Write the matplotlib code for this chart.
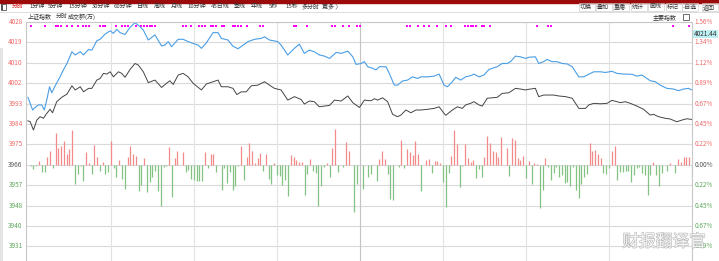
import matplotlib
matplotlib.use("Agg")
import matplotlib.pyplot as plt
import matplotlib.patheffects as pe
from matplotlib.patches import Rectangle

plt.rcParams['font.family'] = ['Noto Sans CJK SC', 'DejaVu Sans']

W, H = 719, 261

# intraday index line (minute, price)
blue_min = [0, 1.7, 2.6, 3.8, 5.0, 5.9, 6.8, 7.8, 8.6, 9.8, 11.6, 12.8, 14.1, 15.9, 17.1, 18.9, 20.1,
            21.9, 23.1, 24.9, 26.1, 27.9, 29.7, 30.9, 32.1, 33.3, 35.1, 36.9, 38.7, 40.5, 41.7, 43.5,
            45.9, 48.3, 49.5, 50.7, 51.9, 54.3, 56.1, 57.9, 59.7, 61.5, 62.7, 64.5, 66.9, 68.7, 69.9,
            72.3, 74.1, 75.9, 77.1, 79.5, 81.9, 84.3, 85.5, 87.3, 90.3, 91.5, 93.9, 96.3, 98.1, 99.9,
            101.7, 103.5, 105.3, 107.2, 109.0, 111.4, 113.2, 115.6, 117.4, 118.6, 120.4, 121.6, 122.8,
            124.6, 125.8, 127.0, 129.4, 130.6, 132.4, 133.6, 135.4, 137.2, 139.0, 140.8, 142.0, 144.4,
            146.8, 148.6, 150.4, 151.6, 153.4, 154.6, 156.4, 158.2, 160.0, 161.2, 163.0, 164.8, 166.6,
            169.6, 171.4, 173.2, 174.4, 176.2, 178.0, 179.8, 181.0, 183.4, 184.6, 186.4, 187.6, 189.4,
            191.2, 193.1, 194.9, 196.7, 199.1, 200.9, 202.1, 204.5, 206.9, 208.7, 211.1, 212.9, 215.3,
            218.3, 220.1, 221.9, 223.7, 224.9, 226.7, 228.5, 230.9, 233.3, 235.1, 236.9, 238.7, 240]
blue_val = [3995.3, 3989.8, 3990.9, 3992.0, 3992.0, 3989.8, 3994.1, 3999.9, 3997.3, 4000.2, 4004.2,
            4007.2, 4010.0, 4015.1, 4013.7, 4015.1, 4013.7, 4016.1, 4015.8, 4019.9, 4020.5, 4022.8,
            4024.2, 4023.1, 4024.8, 4023.4, 4022.6, 4025.7, 4027.7, 4026.0, 4024.5, 4020.2, 4022.4,
            4017.6, 4018.0, 4019.5, 4017.3, 4020.5, 4020.5, 4019.5, 4018.7, 4018.0, 4016.6, 4019.0,
            4023.4, 4023.4, 4020.9, 4020.2, 4017.5, 4016.4, 4017.4, 4019.5, 4020.5, 4020.9, 4021.6,
            4020.2, 4019.5, 4018.0, 4013.7, 4016.6, 4018.4, 4014.4, 4015.8, 4015.1, 4013.7, 4013.2,
            4012.2, 4014.8, 4014.4, 4015.4, 4012.9, 4009.6, 4010.0, 4010.8, 4008.6, 4007.9, 4007.2,
            4008.6, 4008.6, 4005.7, 4000.6, 4000.6, 4002.4, 4002.8, 4004.2, 4003.5, 4004.2, 4004.2,
            4004.5, 4005.4, 4000.6, 3999.9, 4002.1, 4004.0, 4002.8, 4004.2, 4004.7, 4005.4, 4004.2,
            4005.0, 4007.4, 4008.6, 4010.0, 4010.0, 4010.8, 4013.2, 4012.9, 4012.2, 4012.7, 4012.9,
            4010.0, 4010.8, 4011.8, 4010.8, 4010.8, 4010.0, 4009.8, 4008.6, 4004.2, 4004.2, 4005.0,
            4006.4, 4006.4, 4006.1, 4006.6, 4005.7, 4005.4, 4005.3, 4004.5, 4005.0, 4003.5, 4002.5,
            4002.1, 4000.6, 3999.2, 3998.9, 3998.2, 3998.9, 3999.2, 3998.5]

# average / reference line (minute, price)
gray_min = [0, 0.8, 2.0, 3.2, 4.4, 5.6, 6.8, 8.0, 8.9, 10.4, 12.2, 14.1, 15.9, 17.1, 18.9, 20.1, 21.9,
            23.1, 24.9, 26.1, 27.3, 28.5, 29.7, 30.9, 32.7, 33.9, 35.1, 36.9, 38.7, 39.9, 41.7, 43.5,
            45.9, 48.3, 50.1, 51.3, 52.5, 54.3, 56.1, 57.9, 59.7, 62.7, 64.5, 66.9, 68.7, 69.9, 72.3,
            74.1, 75.5, 77.1, 78.9, 80.7, 83.1, 85.5, 87.3, 89.1, 91.5, 93.9, 96.3, 98.7, 99.9, 101.7,
            103.5, 105.3, 107.2, 109.0, 110.8, 113.2, 115.6, 117.4, 119.8, 121.6, 124.0, 125.2, 126.4,
            128.2, 130.0, 131.8, 133.6, 134.8, 136.6, 138.4, 140.2, 142.0, 144.4, 146.8, 148.6, 150.4,
            151.0, 153.4, 155.2, 157.0, 158.2, 160.0, 161.2, 163.0, 164.2, 166.0, 167.8, 169.6, 171.4,
            173.8, 176.2, 178.0, 179.8, 181.0, 183.4, 184.6, 186.4, 188.2, 190.0, 191.8, 194.3, 196.7,
            199.1, 201.5, 202.7, 204.5, 206.9, 209.3, 211.1, 212.3, 214.1, 215.9, 217.7, 220.1, 222.5,
            224.9, 226.1, 227.9, 230.3, 232.1, 234.5, 236.3, 238.1, 240]
gray_val = [3985.1, 3984.7, 3981.1, 3985.4, 3986.9, 3986.2, 3988.3, 3990.1, 3988.6, 3993.4, 3995.3,
            3996.7, 4000.3, 3998.5, 3999.9, 3997.7, 3999.2, 3999.2, 4002.8, 4003.5, 4005.7, 4005.4,
            4006.4, 4004.2, 4006.4, 4005.7, 4004.0, 4007.4, 4010.0, 4009.3, 4006.4, 4001.7, 4002.8,
            3999.6, 4001.4, 4002.5, 4000.9, 4005.0, 4005.7, 4004.2, 4001.4, 3998.5, 4001.1, 4002.1,
            4002.8, 3999.9, 3999.9, 3999.2, 3996.5, 3997.7, 3997.7, 4000.3, 4000.6, 4002.1, 4000.6,
            3999.2, 3998.5, 3994.1, 3995.6, 3994.4, 3992.4, 3993.7, 3993.4, 3991.2, 3991.5, 3991.8,
            3994.1, 3993.7, 3995.9, 3993.0, 3990.9, 3994.1, 3993.8, 3994.7, 3994.1, 3995.1, 3993.4,
            3987.9, 3986.9, 3987.6, 3989.8, 3988.6, 3989.8, 3989.8, 3990.1, 3990.5, 3991.2, 3988.3,
            3987.5, 3989.8, 3991.2, 3990.5, 3992.0, 3992.7, 3993.4, 3992.0, 3991.5, 3994.9, 3995.1,
            3995.3, 3997.0, 3997.3, 3999.2, 3998.9, 3998.5, 3998.8, 3999.2, 3995.6, 3996.3, 3996.3,
            3996.3, 3995.9, 3995.6, 3994.9, 3990.5, 3990.5, 3992.0, 3992.7, 3992.5, 3992.7, 3994.0,
            3993.6, 3993.0, 3993.4, 3992.7, 3991.5, 3990.1, 3987.6, 3987.9, 3986.9, 3986.2, 3985.9,
            3984.7, 3985.4, 3986.0, 3985.7]

# bars drawn from the 3966 base line (minute, height in price units)
bar_min = [1, 2, 3, 4, 5, 6, 7, 8, 9, 10, 11, 12, 13, 14, 15, 16, 17, 18, 19, 20, 21, 22, 23, 24, 25,
           26, 27, 28, 29, 30, 31, 32, 33, 34, 35, 36, 37, 38, 39, 40, 41, 42, 43, 44, 45, 46, 47, 48,
           49, 50, 51, 52, 53, 54, 56, 57, 58, 59, 60, 61, 62, 63, 64, 65, 66, 67, 68, 70, 71, 72, 73,
           74, 75, 76, 77, 78, 79, 80, 81, 82, 83, 84, 85, 86, 87, 88, 89, 90, 91, 92, 93, 94, 95, 96,
           97, 98, 99, 100, 101, 102, 103, 104, 105, 106, 107, 108, 109, 110, 111, 112, 114, 115, 116,
           118, 119, 121, 122, 123, 124, 126, 127, 128, 129, 130, 131, 132, 133, 134, 135, 136, 137,
           138, 139, 140, 141, 142, 143, 144, 145, 146, 147, 148, 149, 150, 151, 152, 153, 154, 155,
           156, 157, 158, 159, 160, 161, 162, 163, 164, 165, 166, 167, 168, 169, 170, 171, 173, 174,
           175, 176, 177, 178, 179, 180, 181, 182, 183, 184, 185, 186, 187, 188, 189, 190, 191, 192,
           193, 194, 195, 196, 197, 198, 199, 200, 201, 202, 203, 204, 205, 206, 207, 208, 209, 210,
           211, 212, 213, 214, 215, 216, 217, 218, 219, 220, 221, 222, 223, 224, 225, 226, 227, 228,
           229, 231, 232, 234, 235, 236, 237, 238, 239, 240]
bar_val = [-0.4, -1.9, -0.7, 1.6, -3.0, -3.0, 3.6, 5.9, -1.6, 14.0, 7.1, 8.3, 10.4, 4.5, 6.8, 15.2,
           -8.4, -3.8, -0.4, -7.2, 5.4, 0.7, -4.1, 8.7, 3.6, -2.6, 1.0, -3.8, -3.0, 10.3, -1.2, -5.1,
           2.2, -6.2, -10.6, 3.2, 8.0, 4.5, 3.9, -11.3, -8.8, 2.9, -12.0, -7.4, -5.5, -2.6, -11.3,
           -18.1, -0.9, -0.7, 7.7, -13.8, 3.0, 5.9, 5.4, -3.0, -2.3, -6.2, -6.5, -7.2, -7.2, -7.2,
           5.4, -1.6, 4.9, 4.9, -3.0, -11.0, -1.6, -8.1, -3.3, -11.0, -9.2, -0.7, 8.2, -6.8, 3.3,
           9.6, 6.2, 0.7, 2.9, 5.1, -2.9, 4.5, -6.1, -8.5, 0.9, -4.6, -4.9, -8.7, -6.8, -13.6, 4.1,
           3.3, 1.9, 1.2, 1.2, -13.3, -4.2, 2.6, -2.5, -3.6, -17.7, -9.0, -1.0, 0.7, -5.1, 7.4, 15.5,
           -3.2, -1.0, 9.8, 6.2, -20.6, -8.3, -10.7, -0.3, -5.1, -3.9, -7.1, 2.6, 6.2, 2.6, -3.9,
           -14.8, -15.5, -0.3, -1.0, 10.9, -1.3, 6.9, 5.5, 4.1, 10.3, 4.8, -11.4, -0.3, 2.2, 2.6,
           -3.6, 1.6, 1.6, 0.7, -7.5, -18.4, -3.6, 3.8, 15.2, 9.1, -9.7, -0.7, 9.1, 2.9, 1.2, 2.2,
           -5.6, -2.0, -5.4, 3.3, 12.7, 9.4, 5.9, 5.5, 3.3, 12.0, 7.4, -4.9, 11.6, 10.6, 2.9, 2.3,
           3.8, -5.8, 1.6, -8.5, 0.7, 0.4, -18.8, -11.1, 2.9, -1.0, -6.4, -3.6, -1.0, -5.4, -4.6,
           -8.0, -7.5, -9.0, -1.0, -10.9, -14.3, -8.3, -5.4, -3.9, 9.4, 5.9, 6.5, 4.5, 3.0, -3.6,
           -3.9, -1.6, 5.8, 8.2, -6.4, -3.0, -3.2, -2.5, -2.9, -7.5, -4.6, -1.4, -1.0, -3.5, -4.3,
           -13.3, -4.6, 1.2, -4.6, -9.0, -3.5, -2.5, 0.9, -3.5, 2.6, 1.2, 3.6, 3.6, 3.6, -5.8]

# magenta signal marks along the top
dot_min = [1, 6, 10, 11, 12, 14, 16, 18, 20, 21, 22, 26, 27, 28, 32, 34, 35, 36, 39, 41, 42, 43, 44,
           45, 46, 56, 57, 59, 62, 63, 64, 66, 67, 68, 70, 71, 74, 75, 76, 77, 79, 84, 85, 96, 97,
           101, 110, 111, 114, 116, 119, 120, 137, 138, 141, 143, 145, 148, 151, 153, 158, 159, 160,
           161, 162, 164, 165, 167, 184, 188, 189, 233, 239]
dot_level = 4026.3

base = 3966.0
step = 8.86
left_labels = ['4028', '4019', '4010', '4002', '3993', '3984', '3975', '3966',
               '3957', '3948', '3940', '3931']
right_labels = ['1.56%', '1.34%', '1.12%', '0.89%', '0.67%', '0.45%', '0.22%', '0.00%',
                '0.22%', '0.45%', '0.67%', '0.89%']
toolbar = [('分时', 12), ('1分钟', 29), ('5分钟', 48), ('15分钟', 68), ('30分钟', 92), ('60分钟', 114),
           ('日线', 137), ('周线', 154), ('月线', 171), ('10分钟', 187), ('45日线', 211), ('季线', 234),
           ('年线', 251), ('5秒', 269), ('15秒', 285), ('多分时', 302), ('更多 〉', 322)]
buttons = [('切换', 580), ('叠加', 597), ('重播', 614), ('统计', 632), ('画线', 649), ('标记', 667),
           ('-自选', 683), ('返回', 703)]

RED = '#f06a6a'
GREEN = '#5ea85e'


def fx(x):
    return x / W


def fy(y):
    return 1 - y / H


fig = plt.figure(figsize=(W / 100, H / 100), dpi=100)
fig.patch.set_facecolor('white')

# header strips
fig.patches.append(Rectangle((0, fy(2.5)), 1, 2.5 / H, transform=fig.transFigure,
                             color='#9b0b0b', zorder=0))
fig.add_artist(plt.Line2D([0, 1], [fy(12), fy(12)], transform=fig.transFigure,
                          color='#d8d8d8', lw=0.6))
fig.patches.append(Rectangle((fx(1), fy(10)), 5 / W, 6 / H, transform=fig.transFigure,
                             fill=False, ec='#555555', lw=0.6))
fig.patches.append(Rectangle((fx(1), fy(10)), 2 / W, 6 / H, transform=fig.transFigure,
                             color='#555555', lw=0))
for name, x in toolbar:
    fig.text(fx(x), fy(6.5), name, fontsize=4.3, va='center', ha='left',
             color='#e02020' if name == '分时' else '#333333')
for name, x in buttons:
    fig.patches.append(Rectangle((fx(x - 1.5), fy(11)), 16 / W, 8 / H, transform=fig.transFigure,
                                 fill=False, ec='#d0d0d0', lw=0.5))
    fig.text(fx(x), fy(7), name, fontsize=4.3, va='center', ha='left', color='#333333')
fig.text(fx(28), fy(16.5), '上证指数', fontsize=4.3, va='center', color='#333333')
fig.text(fx(56), fy(16.5), '分时', fontsize=4.3, va='center', color='#333333')
fig.text(fx(68), fy(16.5), '成交额(万)', fontsize=4.3, va='center', color='#333333')
fig.text(fx(653), fy(17), '主要指数', fontsize=4.3, va='center', color='#333333')
fig.patches.append(Rectangle((fx(683), fy(20)), 6 / W, 6 / H, transform=fig.transFigure,
                             fill=False, ec='#555555', lw=0.6))

ax = fig.add_axes([fx(26), 0, (692 - 26) / W, 1 - 22 / H])
top = base + 7 * step
ax.set_xlim(-0.7, 240)
ax.set_ylim(top - (H - 22) * step / 20.4, top)

tick_vals = [base + (7 - i) * step for i in range(len(left_labels))]
for i, v in enumerate(tick_vals):
    ax.axhline(v, color='#dadada', lw=0.8, zorder=0)
    c = RED if i < 7 else ('#555555' if i == 7 else GREEN)
    ax.text(-0.005, v, left_labels[i], transform=ax.get_yaxis_transform(), ha='right',
            va='center', fontsize=4.6, color=c)
    ax.text(1.004, v, right_labels[i], transform=ax.get_yaxis_transform(), ha='left',
            va='center', fontsize=4.6, color=c)
for m in range(30, 240, 30):
    ax.axvline(m, color='#c4c4c4' if m == 120 else '#e2e2e2', lw=0.8, zorder=0)

up_min = [m for m, v in zip(bar_min, bar_val) if v > 0]
up_val = [v for v in bar_val if v > 0]
dn_min = [m for m, v in zip(bar_min, bar_val) if v < 0]
dn_val = [v for v in bar_val if v < 0]
ax.vlines(up_min, base, [base + v for v in up_val], color='#f28a8a', lw=0.9)
ax.vlines(dn_min, base, [base + v for v in dn_val], color='#82c282', lw=0.9)

ax.plot(gray_min, gray_val, color='#444444', lw=0.7)
ax.plot(blue_min, blue_val, color='#4a9ee6', lw=0.8)
ax.scatter(dot_min, [dot_level] * len(dot_min), s=2.2, marker='s', color='#ff00ff', lw=0)

ax.set_xticks([])
ax.set_yticks([])
for s in ['left', 'right', 'top']:
    ax.spines[s].set_color('#c8c8c8')
    ax.spines[s].set_linewidth(0.8)
ax.spines['bottom'].set_visible(False)

# current value tag on the right axis
fig.patches.append(Rectangle((fx(692.5), fy(37.5)), 25 / W, 7.5 / H, transform=fig.transFigure,
                             color='#bdeef2', lw=0))
fig.text(fx(694), fy(33.8), '4021.44', fontsize=4.6, va='center', color='#333333')

# light strip on the far left
fig.patches.append(Rectangle((0, 0), 2.5 / W, 1 - 48 / H, transform=fig.transFigure,
                             color='#e4e4e4', lw=0))

# watermark
fig.text(fx(664), fy(242), '财报翻译官', fontsize=12, ha='center', va='center',
         color='white', alpha=0.85,
         path_effects=[pe.withStroke(linewidth=0.9, foreground='#b0b0b0')])

fig.savefig('out.png', dpi=100)
plt.close()
